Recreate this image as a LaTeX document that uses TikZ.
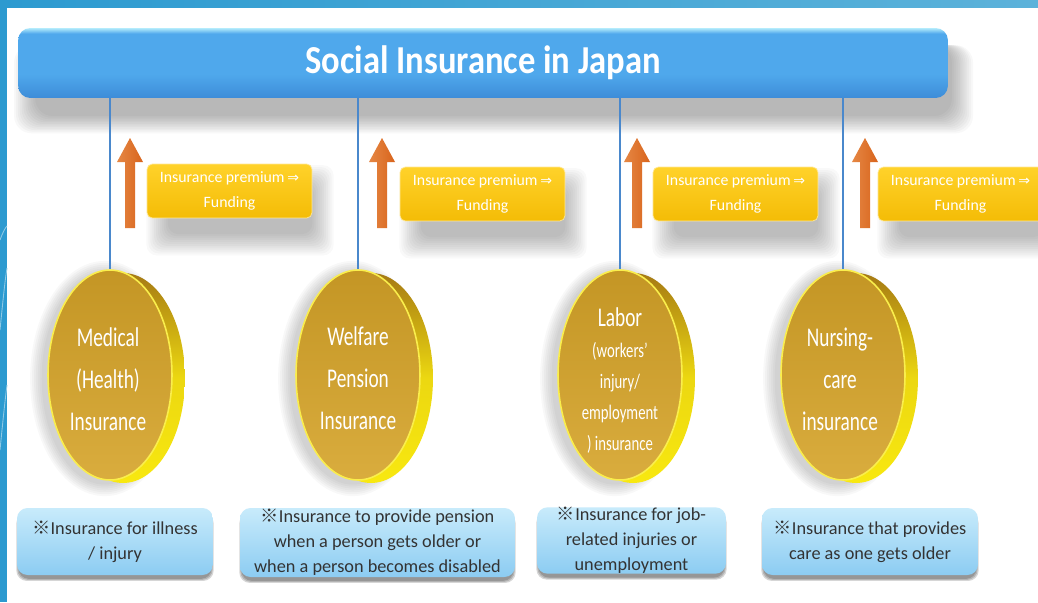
\documentclass[tikz,border=0pt]{standalone}
\usepackage{fontspec}
\usepackage{graphicx}
\setmainfont{Carlito}
\newfontfamily\symfont{DejaVu Sans}
\newfontfamily\cjkfont{Noto Sans CJK JP}
\usetikzlibrary{shapes.geometric,calc,positioning}

\definecolor{framebl}{HTML}{2C9AD0}
\definecolor{framelt}{HTML}{5CB2DA}
\definecolor{barbl}{HTML}{4FA8EC}
\definecolor{barlt}{HTML}{B4ECFC}
\definecolor{bardk}{HTML}{3D8CD8}
\definecolor{linebl}{HTML}{4A88CC}
\definecolor{goldface}{HTML}{D5A328}
\definecolor{goldrim}{HTML}{F8E810}
\definecolor{golddk}{HTML}{A67A14}
\definecolor{premyl}{HTML}{F4BC06}
\definecolor{premlt}{HTML}{FFD22A}
\definecolor{notelt}{HTML}{C8EBFB}
\definecolor{notedk}{HTML}{8CCCF2}
\definecolor{notetx}{HTML}{333333}
\definecolor{arrdk}{HTML}{D8641C}
\definecolor{arrlt}{HTML}{FABC80}
\definecolor{shadowgr}{HTML}{404040}

\newcommand{\kome}{{\cjkfont ※}}
\newcommand{\premto}{{\symfont\fontsize{8pt}{8pt}\selectfont ⇒}}
\newcommand{\sm}{\fontsize{8.4pt}{12pt}\selectfont}

\pgfdeclareverticalshading{barshade}{100bp}{
  color(0bp)=(bardk); color(25bp)=(bardk); color(42bp)=(barbl);
  color(71bp)=(barbl); color(75bp)=(barlt); color(100bp)=(barlt)}

\pgfdeclarelayer{background}
\pgfsetlayers{background,main}

\tikzset{
  title bar/.style={rectangle, rounded corners=7pt, shading=barshade,
    minimum width=18.6cm, minimum height=1.4cm, text=white,
    font=\fontsize{20.5pt}{24pt}\selectfont\bfseries},
  link/.style={draw=linebl, line width=0.8pt},
  premium/.style={rectangle, rounded corners=3pt, top color=premlt,
    bottom color=premyl, draw=premlt!50!white, line width=0.4pt,
    text=white, align=center, minimum width=3.3cm, minimum height=1.08cm,
    inner sep=0pt, font=\fontsize{9pt}{14.5pt}\selectfont},
  coin rim/.style={ellipse, minimum width=2.48cm, minimum height=4.2cm,
    inner sep=0pt, top color=golddk, bottom color=goldrim,
    middle color=goldrim!85!golddk},
  coin face/.style={ellipse, minimum width=2.48cm, minimum height=4.2cm,
    inner sep=0pt, top color=goldface!92!black, bottom color=goldface!90!white,
    draw=goldrim!75!white, line width=0.9pt},
  coin text/.style={text=white, align=center, yscale=1.4,
    font=\fontsize{11pt}{17pt}\selectfont},
  note/.style={rectangle, rounded corners=6pt, top color=notelt,
    bottom color=notedk, text=notetx, align=center, inner sep=0pt,
    font=\fontsize{10.4pt}{14.2pt}\selectfont},
  up arrow/.pic={
    \path[left color=arrdk!60!arrlt, middle color=arrlt, right color=arrdk]
      (-5,0) -- (-5,-66) -- (-13,-66) -- (0,-90) -- (13,-66) -- (5,-66)
      -- (5,0) -- cycle;
  },
  swoosh/.style={draw=framelt!70!white, line width=0.5pt},
}

\begin{document}
\begin{tikzpicture}[x=0.02cm, y=-0.02cm]
\useasboundingbox (0,0) rectangle (1038,602);
\clip (0,0) rectangle (1038,602);

% frame
\begin{pgfonlayer}{background}
\fill[white] (0,0) rectangle (1038,602);
\fill[left color=framebl, right color=framelt] (0,0) rectangle (1038,7);
\fill[framebl] (0,0) rectangle (7,602);
\draw[swoosh] (0,240) .. controls (3,232) and (5,228) .. (7,226);
\draw[swoosh] (0,330) .. controls (3,300) and (5,280) .. (7,268);
\draw[swoosh] (0,450) .. controls (3,420) and (5,400) .. (7,385);
\end{pgfonlayer}

% title
\node[title bar] (title) at (483,63)
  {\scalebox{0.96}[1.1]{Social Insurance in Japan}};

% coins
\node[coin rim] (medrim) at (123,378) {};
\node[coin face] (med) at (110,375) {};
\node[coin text] (medtx) at (108,379) {Medical\\(Health)\\Insurance};

\node[coin rim] (welrim) at (371,378) {};
\node[coin face] (wel) at (358,375) {};
\node[coin text] (weltx) at (358,378) {Welfare\\Pension\\Insurance};

\node[coin rim] (labrim) at (633,378) {};
\node[coin face] (lab) at (620,375) {};
\node[coin text] (labtx) at (620,381) {Labor\\[-4.4pt]\sm (workers'\\[-4.4pt]
  \sm injury/\\[-4.4pt]\sm employment\\[-4.4pt]\sm ) insurance};

\node[coin rim] (nurrim) at (856,378) {};
\node[coin face] (nur) at (843,375) {};
\node[coin text] (nurtx) at (840,379) {Nursing-\\care\\insurance};

% links from the title bar
\foreach \nd in {med,wel,lab,nur}
  \draw[link] (\nd.north |- title.south) -- (\nd.north);

% premium arrows and boxes
\pic (arr1) at (130,228) {up arrow};
\pic (arr2) at (382,228) {up arrow};
\pic (arr3) at (637,228) {up arrow};
\pic (arr4) at (865,228) {up arrow};

\node[premium] (prem1) at (229.5,191) {Insurance premium\,\premto\\Funding};
\node[premium] (prem2) at (482.5,194) {Insurance premium\,\premto\\Funding};
\node[premium] (prem3) at (735.5,194) {Insurance premium\,\premto\\Funding};
\node[premium] (prem4) at (960.5,194) {Insurance premium\,\premto\\Funding};

% notes
\node[note, minimum width=3.92cm, minimum height=1.34cm] (note1) at (115,541.5)
  {\kome Insurance for illness\\/ injury};
\node[note, minimum width=5.5cm, minimum height=1.38cm] (note2) at (377.5,542.5)
  {\kome Insurance to provide pension\\when a person gets older or\\when a person becomes disabled};
\node[note, minimum width=3.78cm, minimum height=1.3cm] (note3) at (631.5,540.5)
  {\kome Insurance for job-\\related injuries or\\unemployment};
\node[note, minimum width=4.32cm, minimum height=1.34cm] (note4) at (870,541.5)
  {\kome Insurance that provides\\care as one gets older};

% soft shadows
\begin{pgfonlayer}{background}
\foreach \k in {0,...,11}
  \fill[shadowgr, opacity=.035, rounded corners=10pt]
    ($(title.south west)+(10pt-\k*1.1pt,-10pt-\k*0.9pt)$) rectangle
    ($(title.north east)+(2pt+\k*1.1pt,-10pt)$);
\foreach \nd in {prem1,prem2,prem3,prem4}
  \foreach \k in {0,...,11}
    \fill[shadowgr, opacity=.032, rounded corners=6pt]
      ($(\nd.south west)+(12pt-\k*1.1pt,-9pt-\k*1.1pt)$) rectangle
      ($(\nd.north east)+(\k*1.1pt,-13pt+\k*1.1pt)$);
\foreach \nd in {med,wel,lab,nur}
  \foreach \k in {0,...,6}
    \fill[shadowgr, opacity=.035] ($(\nd)+(-3pt,-2pt)$)
      ellipse [x radius=1.26cm+\k*1.1pt, y radius=2.12cm+\k*1.1pt];
\foreach \nd in {note1,note2,note3,note4}
  \foreach \k in {0,1,2}
    \fill[black, opacity=.16, rounded corners=6pt]
      ($(\nd.south west)+(1pt-\k*0.6pt,-2pt-\k*0.6pt)$) rectangle
      ($(\nd.north east)+(-1pt+\k*0.6pt,-3pt)$);
\end{pgfonlayer}
\end{tikzpicture}
\end{document}
